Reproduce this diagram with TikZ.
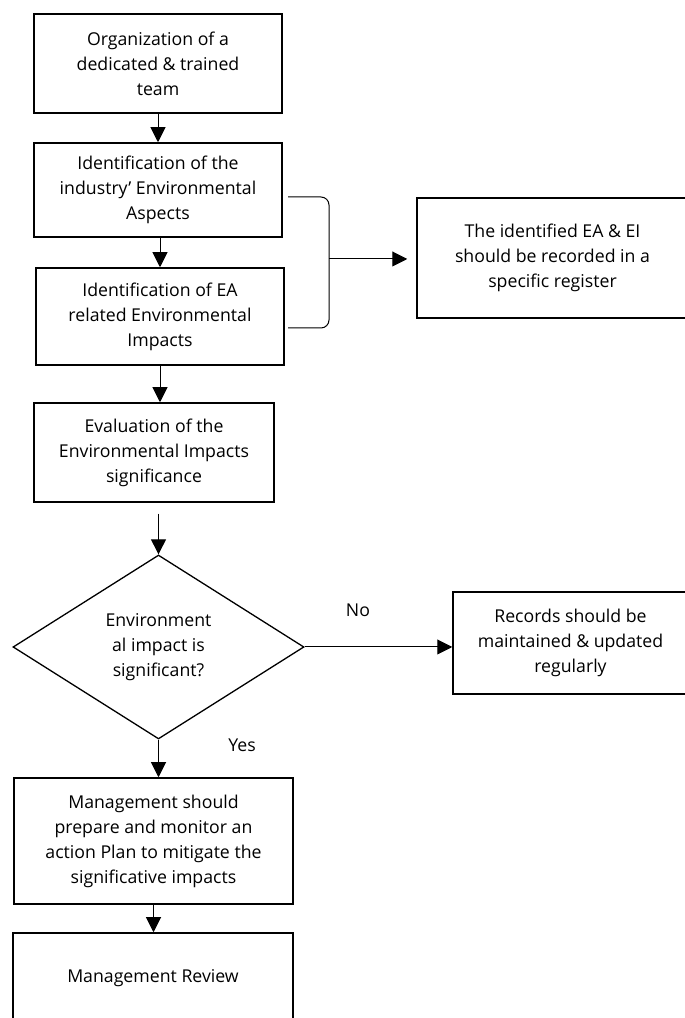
\documentclass[tikz,border=0pt]{standalone}
\usepackage{fontspec}
\setmainfont{Open Sans}
\usetikzlibrary{shapes.geometric,arrows.meta}

\tikzset{
  stepbox/.style={draw=drawColor,line width=1.5pt,align=center,inner sep=0pt,
    font=\fontsize{17.7}{25}\selectfont},
  decision/.style={diamond,draw=drawColor,line width=1.3pt,align=center,inner sep=0pt,
    font=\fontsize{17.7}{25}\selectfont},
  flow/.style={draw=drawColor,line width=1pt,-{Triangle[length=15pt,width=15pt]}},
  lbl/.style={inner sep=0pt,font=\fontsize{17.7}{25}\selectfont}
}

\begin{document}
\begin{tikzpicture}[x=1pt,y=1pt]
\definecolor{drawColor}{RGB}{0,0,0}
\definecolor{fillColor}{RGB}{255,255,255}
\path[use as bounding box,fill=fillColor] (0,0) rectangle (685,1018);
\begin{scope}
\path[clip] (0,0) rectangle (685,1018);

% main column
\node[stepbox,minimum width=248pt,minimum height=99pt] (team) at (158,954.5) {Organization of a\\dedicated \& trained\\team};

\node[stepbox,minimum width=248pt,minimum height=94pt] (aspects) at (158,828) {Identification of the\\industry’ Environmental\\Aspects};

\node[stepbox,minimum width=248pt,minimum height=97pt] (impacts) at (160,701.5) {Identification of EA\\related Environmental\\Impacts};

\node[stepbox,minimum width=240pt,minimum height=99pt] (evaluation) at (154,565.5) {Evaluation of the\\Environmental Impacts\\significance};

\node[decision,minimum width=291pt,minimum height=184pt] (decide) at (158.5,371) {Environment\\al impact is\\significant?};

\node[stepbox,minimum width=279pt,minimum height=126pt] (plan) at (153.5,177) {Management should\\prepare and monitor an\\action Plan to mitigate the\\significative impacts};

\node[stepbox,minimum width=280pt,minimum height=91pt] (review) at (153,39.5) {Management Review};

% side boxes
\node[stepbox,minimum width=271pt,minimum height=120pt] (register) at (552.5,760) {The identified EA \& EI\\should be recorded in a\\specific register};

\node[stepbox,minimum width=235pt,minimum height=102pt] (records) at (570.5,375) {Records should be\\maintained \& updated\\regularly};

% connectors
\draw[flow] (team) -- (aspects);

\draw[flow] (aspects.south -| impacts.north) -- (impacts.north);

\draw[flow] (impacts.south) -- (impacts.south |- evaluation.north);

\coordinate (evalgap) at ([yshift=-11pt]evaluation.south -| decide.north);
\draw[flow] (evalgap) -- (decide.north);

\draw[flow] (decide.south) -- (decide.south |- plan.north);

\draw[flow] (plan.south) -- (plan.south |- review.north);

\draw[flow] (decide.east) -- (decide.east -| records.west);

% bracket
\coordinate (brtop) at (288,821);
\coordinate (brbot) at (288,690);
\coordinate (brmid) at (329,759);
\draw[draw=drawColor,line width=1pt,rounded corners=8pt] (brtop) -- (brtop -| brmid) -- (brbot -| brmid) -- (brbot);
\draw[flow] (brmid) -- ([xshift=-9pt]register.west |- brmid);

\node[lbl] (no) at (358,408) {No};

\node[lbl] (yes) at (242,273) {Yes};
\end{scope}
\end{tikzpicture}
\end{document}
